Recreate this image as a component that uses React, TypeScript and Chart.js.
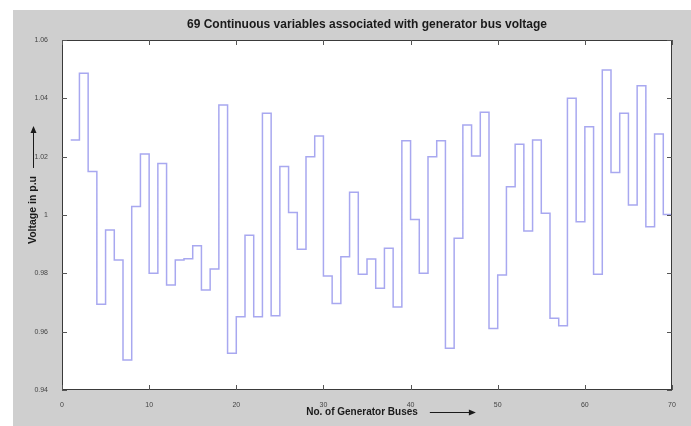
import React, { useEffect, useRef } from "react";
import { Chart, registerables } from "chart.js";

Chart.register(...registerables);

const chartTitle = "69 Continuous variables associated with generator bus voltage";
const xAxisTitle = "No. of Generator Buses";
const yAxisTitle = "Voltage in p.u";

// bus numbers (stair start positions); the last entry closes the final stair
const busNumbers = [
  1, 2, 3, 4, 5, 6, 7, 8, 9, 10,
  11, 12, 13, 14, 15, 16, 17, 18, 19, 20,
  21, 22, 23, 24, 25, 26, 27, 28, 29, 30,
  31, 32, 33, 34, 35, 36, 37, 38, 39, 40,
  41, 42, 43, 44, 45, 46, 47, 48, 49, 50,
  51, 52, 53, 54, 55, 56, 57, 58, 59, 60,
  61, 62, 63, 64, 65, 66, 67, 68, 69, 70,
];

const busVoltages = [
  1.0257, 1.0486, 1.0149, 0.9694, 0.9949, 0.9846, 0.9503, 1.0029, 1.0209, 0.98,
  1.0177, 0.976, 0.9846, 0.985, 0.9895, 0.9743, 0.9815, 1.0377, 0.9526, 0.9651,
  0.9931, 0.9651, 1.0349, 0.9655, 1.0166, 1.0009, 0.9883, 1.02, 1.0271, 0.9791,
  0.9697, 0.9857, 1.0078, 0.9797, 0.9849, 0.9749, 0.9886, 0.9685, 1.0255, 0.9985,
  0.98, 1.02, 1.0255, 0.9543, 0.992, 1.0309, 1.0202, 1.0352, 0.9611, 0.9794,
  1.0097, 1.0243, 0.9945, 1.0257, 1.0006, 0.9646, 0.962, 1.04, 0.9977, 1.0303,
  0.9797, 1.0497, 1.0146, 1.0349, 1.0034, 1.0443, 0.996, 1.0278, 1.0002, 1.0002,
];

const xTickValues = [0, 10, 20, 30, 40, 50, 60, 70];
const xTickLabels = ["0", "10", "20", "30", "40", "50", "60", "70"];
const yTickValues = [0.94, 0.96, 0.98, 1.0, 1.02, 1.04, 1.06];
const yTickLabels = ["0.94", "0.96", "0.98", "1", "1.02", "1.04", "1.06"];

const FIG_BG = "#cfcfcf";
const LINE_COLOR = "#a8a8f0";

const framePlugin = {
  id: "matlabFrame",
  beforeDraw(chart: any) {
    const { ctx, width, height, chartArea } = chart;
    ctx.save();
    ctx.fillStyle = "#ffffff";
    ctx.fillRect(0, 0, width, height);
    ctx.fillStyle = FIG_BG;
    ctx.fillRect(13, 10, width - 13, height - 10);
    ctx.fillStyle = "#ffffff";
    ctx.fillRect(chartArea.left, chartArea.top, chartArea.right - chartArea.left, chartArea.bottom - chartArea.top);
    ctx.restore();
  },
  afterDraw(chart: any) {
    const { ctx, chartArea } = chart;
    const xs = chart.scales.x;
    const ys = chart.scales.y;
    const { left, right, top, bottom } = chartArea;
    ctx.save();
    ctx.strokeStyle = "#3a3a3a";
    ctx.lineWidth = 1;
    ctx.strokeRect(left + 0.5, top + 0.5, right - left - 1, bottom - top - 1);
    const tl = 5;
    ctx.strokeStyle = "#555555";
    ctx.beginPath();
    xTickValues.forEach((v) => {
      const px = Math.round(xs.getPixelForValue(v)) + 0.5;
      ctx.moveTo(px, bottom);
      ctx.lineTo(px, bottom - tl);
      ctx.moveTo(px, top);
      ctx.lineTo(px, top + tl);
    });
    yTickValues.forEach((v) => {
      const py = Math.round(ys.getPixelForValue(v)) + 0.5;
      ctx.moveTo(left, py);
      ctx.lineTo(left + tl, py);
      ctx.moveTo(right, py);
      ctx.lineTo(right - tl, py);
    });
    ctx.stroke();

    // title
    ctx.fillStyle = "#1a1a1a";
    ctx.textAlign = "center";
    ctx.textBaseline = "middle";
    ctx.font = "bold 12px 'Liberation Sans', Arial, sans-serif";
    ctx.fillText(chartTitle, (left + right) / 2, 25);

    // x-axis title with arrow
    ctx.font = "bold 10px 'Liberation Sans', Arial, sans-serif";
    const xtY = 412;
    ctx.textAlign = "center";
    ctx.fillText(xAxisTitle, 362, xtY);
    const xw = ctx.measureText(xAxisTitle).width;
    const ax0 = 362 + xw / 2 + 12;
    const ax1 = ax0 + 46;
    ctx.strokeStyle = "#1a1a1a";
    ctx.beginPath();
    ctx.moveTo(ax0, xtY + 0.5);
    ctx.lineTo(ax1 - 6, xtY + 0.5);
    ctx.stroke();
    ctx.beginPath();
    ctx.moveTo(ax1, xtY + 0.5);
    ctx.lineTo(ax1 - 7, xtY - 2.5);
    ctx.lineTo(ax1 - 7, xtY + 3.5);
    ctx.closePath();
    ctx.fill();

    // y-axis title with arrow
    ctx.font = "bold 10.5px 'Liberation Sans', Arial, sans-serif";
    const ytX = 33;
    const ytCenter = 210;
    ctx.save();
    ctx.translate(ytX, ytCenter);
    ctx.rotate(-Math.PI / 2);
    ctx.fillText(yAxisTitle, 0, 0);
    ctx.restore();
    const yw = ctx.measureText(yAxisTitle).width;
    const ay0 = ytCenter - yw / 2 - 8;
    const ay1 = ay0 - 42;
    ctx.beginPath();
    ctx.moveTo(ytX + 0.5, ay0);
    ctx.lineTo(ytX + 0.5, ay1 + 6);
    ctx.stroke();
    ctx.beginPath();
    ctx.moveTo(ytX + 0.5, ay1);
    ctx.lineTo(ytX - 2.5, ay1 + 7);
    ctx.lineTo(ytX + 3.5, ay1 + 7);
    ctx.closePath();
    ctx.fill();
    ctx.restore();
  },
};

export default function App() {
  const canvasRef = useRef<HTMLCanvasElement | null>(null);

  useEffect(() => {
    const canvas = canvasRef.current;
    if (!canvas) return;
    const points = busNumbers.map((b, i) => ({ x: b, y: busVoltages[i] }));
    const chart = new Chart(canvas, {
      type: "line",
      data: {
        datasets: [
          {
            data: points,
            stepped: "before",
            borderColor: LINE_COLOR,
            borderWidth: 1.5,
            pointRadius: 0,
            fill: false,
          },
        ],
      },
      options: {
        animation: false,
        responsive: false,
        maintainAspectRatio: false,
        layout: { padding: { left: 0, right: 19, top: 40, bottom: 0 } },
        plugins: {
          legend: { display: false },
          title: { display: false },
          tooltip: { enabled: false },
        },
        scales: {
          x: {
            type: "linear",
            min: 0,
            max: 70,
            grid: { display: false },
            border: { display: false },
            afterFit: (s: any) => {
              s.height = 36;
            },
            afterBuildTicks: (s: any) => {
              s.ticks = xTickValues.map((v) => ({ value: v }));
            },
            ticks: {
              padding: 3,
              maxRotation: 0,
              autoSkip: false,
              color: "#444444",
              font: { size: 7, family: "'Liberation Sans', Arial, sans-serif" },
              callback: (v: any) => {
                const i = xTickValues.indexOf(Number(v));
                return i >= 0 ? xTickLabels[i] : "";
              },
            },
          },
          y: {
            type: "linear",
            min: 0.94,
            max: 1.06,
            grid: { display: false },
            border: { display: false },
            afterFit: (s: any) => {
              s.width = 62;
            },
            afterBuildTicks: (s: any) => {
              s.ticks = yTickValues.map((v) => ({ value: v }));
            },
            ticks: {
              padding: 6,
              autoSkip: false,
              color: "#444444",
              font: { size: 7, family: "'Liberation Sans', Arial, sans-serif" },
              callback: (v: any) => {
                const i = yTickValues.findIndex((t) => Math.abs(t - Number(v)) < 1e-9);
                return i >= 0 ? yTickLabels[i] : "";
              },
            },
          },
        },
      },
      plugins: [framePlugin],
    });
    return () => chart.destroy();
  }, []);

  return (
    <div style={{ position: "fixed", left: 0, top: 0, width: 691, height: 426 }}>
      <canvas ref={canvasRef} width={691} height={426} style={{ width: 691, height: 426, display: "block" }} />
    </div>
  );
}
